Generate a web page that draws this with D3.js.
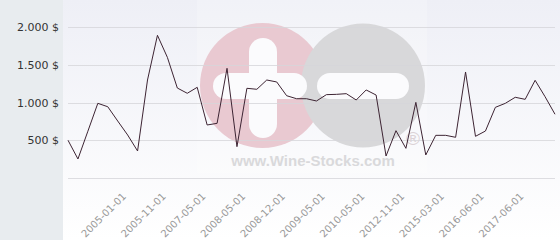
<!DOCTYPE html>
<html>
<head>
<meta charset="utf-8">
<script src="https://cdn.jsdelivr.net/npm/d3@7"></script>
<style>
    body { margin: 0; padding: 0; background: #fff; }
    svg { display: block; font-family: "DejaVu Sans", sans-serif; }
</style>
</head>
<body>
<div id="chart"></div>
<script>

// price per point
let prices = [500, 252, 620, 989, 944, 755, 570, 358, 1298, 1890,
    1598, 1192, 1122, 1201, 702, 724, 1453, 415, 1188, 1175,
    1298, 1272, 1090, 1050, 1050, 1020, 1104, 1108, 1117, 1033,
    1166, 1099, 291, 627, 393, 1002, 305, 565, 565, 539,
    1404, 552, 622, 936, 989, 1069, 1042, 1294, 1077, 844];

// labelled categories (index into prices) and their labels
let tickIndex = [6, 10, 14, 18, 22, 26, 30, 34, 38, 42, 46];
let tickLabels = ["2005-01-01", "2005-11-01", "2007-05-01", "2008-05-01", "2008-12-01",
    "2009-05-01", "2010-05-01", "2012-11-01", "2015-03-01", "2016-06-01", "2017-06-01"];

let yTicks = [0, 500, 1000, 1500, 2000];

let width = 560, height = 240;

let svg = d3.select("#chart").append("svg")
    .attr("width", width)
    .attr("height", height);

// background gradient
let defs = svg.append("defs");
let grad = defs.append("linearGradient")
    .attr("id", "bg")
    .attr("x1", 0).attr("y1", 0).attr("x2", 0).attr("y2", 1);
grad.append("stop").attr("offset", "0%").attr("stop-color", "#eeeff6");
grad.append("stop").attr("offset", "100%").attr("stop-color", "#ffffff");

svg.append("rect")
    .attr("width", width).attr("height", height)
    .attr("fill", "url(#bg)");

// left panel
svg.append("rect")
    .attr("x", 0).attr("y", 0)
    .attr("width", 63).attr("height", height)
    .attr("fill", "#e8ecef");

let x = d3.scalePoint()
    .domain(d3.range(prices.length))
    .range([68, 555]);

let y = d3.scaleLinear()
    .domain([0, 2000])
    .range([178, 27]);

let locale = d3.formatLocale({ decimal: ",", thousands: ".", grouping: [3], currency: ["", " $"] });
let fmt = locale.format("$,");

// watermark
let wm = svg.append("g").attr("class", "watermark");
wm.append("rect")
    .attr("x", 197).attr("y", 0).attr("width", 230).attr("height", 173)
    .attr("fill", "#ffffff").attr("opacity", 0.22);
wm.append("circle").attr("cx", 262.5).attr("cy", 85.5).attr("r", 62.5).attr("fill", "#e9c9d1");
wm.append("circle").attr("cx", 363).attr("cy", 85.5).attr("r", 62).attr("fill", "#d8d8da");
wm.append("rect").attr("x", 249).attr("y", 38).attr("width", 28).attr("height", 100)
    .attr("rx", 14).attr("fill", "#fbfbfd");
wm.append("rect").attr("x", 213).attr("y", 73).attr("width", 94).attr("height", 26)
    .attr("rx", 13).attr("fill", "#fbfbfd");
wm.append("rect").attr("x", 317).attr("y", 73).attr("width", 92).attr("height", 26)
    .attr("rx", 13).attr("fill", "#fbfbfd");
wm.append("text")
    .attr("x", 313).attr("y", 166)
    .attr("text-anchor", "middle")
    .attr("font-family", "Liberation Sans, Arial, sans-serif")
    .attr("font-weight", "bold")
    .attr("font-size", 15)
    .attr("fill", "#d9d9db")
    .text("www.Wine-Stocks.com");
wm.append("text")
    .attr("x", 413).attr("y", 145)
    .attr("text-anchor", "middle")
    .attr("font-family", "Liberation Sans, Arial, sans-serif")
    .attr("font-size", 19)
    .attr("fill", "#dcd2d6")
    .text("®");

// grid lines
svg.append("g").attr("class", "grid")
    .selectAll("line")
    .data(yTicks)
    .enter().append("line")
    .attr("x1", 68).attr("x2", 555)
    .attr("y1", d => Math.round(y(d)) + 0.5)
    .attr("y2", d => Math.round(y(d)) + 0.5)
    .attr("stroke", "#d6d6d9")
    .attr("stroke-opacity", 0.8);

// y labels
svg.append("g").attr("class", "ylabels")
    .selectAll("text")
    .data(yTicks.filter(d => d > 0))
    .enter().append("text")
    .attr("x", 59)
    .attr("y", d => y(d) + 4)
    .attr("text-anchor", "end")
    .attr("font-size", 11)
    .attr("fill", "#333")
    .text(d => fmt(d));

// x labels
svg.append("g").attr("class", "xlabels")
    .selectAll("text")
    .data(tickIndex)
    .enter().append("text")
    .attr("text-anchor", "end")
    .attr("font-size", 10)
    .attr("fill", "#999")
    .attr("transform", d => "translate(" + (x(d) - 1) + ",197) rotate(-45)")
    .text((d, i) => tickLabels[i]);

// price line
let line = d3.line()
    .x((d, i) => x(i))
    .y(d => y(d));

svg.append("path")
    .datum(prices)
    .attr("d", line)
    .attr("fill", "none")
    .attr("stroke", "#3d2433")
    .attr("stroke-width", 1);

</script>
</body>
</html>
